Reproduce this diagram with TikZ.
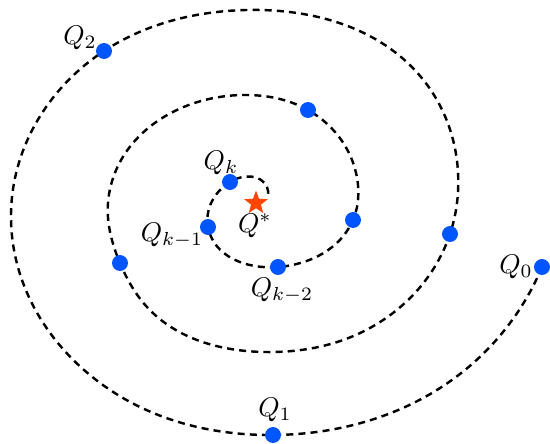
\documentclass[tikz,border=0pt]{standalone}
\usepackage{amsmath,amssymb}
\usepackage{xcolor}
\usepackage{tikz}
\usetikzlibrary{shapes.geometric,hobby}
\definecolor{iterblue}{HTML}{0055FF}
\definecolor{optred}{HTML}{FF4500}

\begin{document}
\begin{tikzpicture}[x=0.37pt,y=-0.37pt,
    iter/.style={circle,fill=iterblue,inner sep=0pt,minimum size=5.9pt},
    spiral/.style={line width=0.9pt,dash pattern=on 2.6pt off 1.9pt}]
  \useasboundingbox (0,0) rectangle (550,443);
  % iterates along the spiral
  \foreach \n/\x/\y in {q0/542/267,q1/273/435,q2/104/51,q3/450/234,q4/120/263,
                        q5/308/110,q6/353/220,qkk/278/267,qk1/208/227,qk/230/182}
     {\coordinate (\n) at (\x,\y);}
  \draw[spiral,use Hobby shortcut] (q0) .. (456,377) .. (q1) .. (140,407)
     .. (11,215) .. (q2) .. (246,10) .. (421,77) .. (458,192) .. (q3)
     .. (351,337) .. (265,352) .. (147,307) .. (q4) .. (108,203) .. (242,95)
     .. (q5) .. (358,185) .. (q6) .. (qkk) .. (qk1) .. (qk) .. (267,187) .. (268,196);
  \foreach \n in {q0,q1,q2,q3,q4,q5,q6,qkk,qk1,qk}
     {\node[iter] (d\n) at (\n) {};}
  \node[star,star points=5,star point ratio=2.4,fill=optred,inner sep=0pt,
        minimum size=9.2pt] (opt) at (256,203) {};
  \node (l0) at (516,267) {$Q_0$};
  \node (l1) at (275,410) {$Q_1$};
  \node (l2) at (80,38) {$Q_2$};
  \node (lkk) at (282,290) {$Q_{k-2}$};
  \node (lk1) at (172,235) {$Q_{k-1}$};
  \node (lk) at (221,163) {$Q_k$};
  \node (lopt) at (255,226) {$Q^*$};
\end{tikzpicture}
\end{document}
